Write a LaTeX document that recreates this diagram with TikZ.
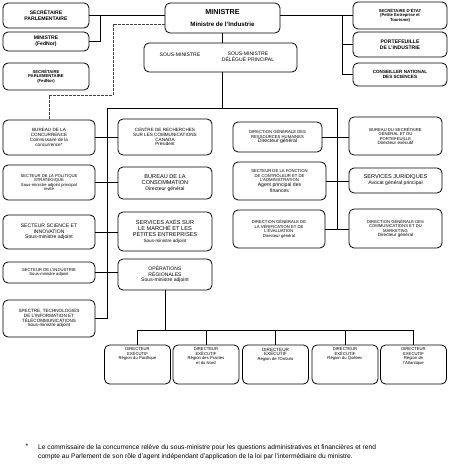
\documentclass[tikz,border=0pt]{standalone}
\usepackage{fontspec}
\setmainfont{Liberation Sans}
\usetikzlibrary{calc}
\newcommand\fsXs{\fontsize{4.2}{4.5}\selectfont}
\newcommand\fsS{\fontsize{4.6}{4.9}\selectfont}
\newcommand\fsM{\fontsize{5.1}{5.6}\selectfont}
\newcommand\fsL{\fontsize{5.6}{6.1}\selectfont}
\newcommand\fsFoot{\fontsize{6.65}{9}\selectfont}
\newcommand\topbox[2]{\parbox[t][#1][t]{60pt}{\centering #2}}
\begin{document}
\begin{tikzpicture}[x=1pt,y=-1pt,
  bx/.style={draw, rounded corners=5pt, line width=0.8pt, align=center, inner sep=1pt},
  ln/.style={line width=0.8pt},
  dl/.style={line width=0.7pt, black!75, dash pattern=on 2.5pt off 1.5pt},
  lcol/.style={bx, minimum width=92pt},
  ccol/.style={bx, minimum width=94pt},
  rcol/.style={bx, minimum width=93pt},
  reg/.style={bx, minimum width=64pt, minimum height=39pt, inner sep=3pt, font=\fsXs}]
\useasboundingbox (0,0) rectangle (450,465);

% top left
\node[bx, minimum width=86pt, minimum height=25pt, font=\fsM\bfseries] (secparl) at (46,15.5) {SECRÉTAIRE\\PARLEMENTAIRE};
\node[bx, minimum width=86pt, minimum height=19pt, font=\fsM\bfseries] (minfed) at (46,41.5) {MINISTRE\\(FedNor)};
\node[bx, minimum width=86pt, minimum height=27pt, font=\fsXs\bfseries] (secfed) at (46,76.5) {SECRÉTAIRE\\PARLEMENTAIRE\\(FedNor)};

% ministre
\node[bx, minimum width=115pt, minimum height=30pt] (ministre) at (222.5,18) {{\fontsize{7.2}{9}\selectfont\bfseries MINISTRE}\\{\fontsize{6.2}{8}\selectfont\bfseries Ministre de l'Industrie}};
\node[bx, minimum width=153pt, minimum height=29pt] (sousmin) at (220.5,57.5) {};
\node[font=\fsM, inner sep=0pt] (sm1) at (180,55) {SOUS-MINISTRE};
\node[font=\fsM, align=center, inner sep=0pt] (sm2) at (248,57) {SOUS-MINISTRE\\DÉLÉGUÉ PRINCIPAL};

% top right
\node[bx, minimum width=94pt, minimum height=27pt, font=\fsXs\bfseries] (secetat) at (400,15.5) {SECRÉTAIRE D'ÉTAT\\(Petite Entreprise et\\Tourisme)};
\node[bx, minimum width=94pt, minimum height=25pt, font=\fsM\bfseries] (portef) at (400,44.5) {PORTEFEUILLE\\DE L'INDUSTRIE};
\node[bx, minimum width=94pt, minimum height=23pt, font=\fsS\bfseries] (conseil) at (400,74.5) {CONSEILLER NATIONAL\\DES SCIENCES};

% left column
\node[lcol, minimum height=35pt, font=\fsS] (concur) at (49,137.5) {BUREAU DE LA\\CONCURRENCE\\Commissaire de la\\concurrence*};
\node[lcol, minimum height=35pt, font=\fsXs] (polstrat) at (49,182.5) {SECTEUR DE LA POLITIQUE\\STRATÉGIQUE\\Sous-ministre adjoint principal\\invité};
\node[lcol, minimum height=34pt, font=\fsM] (science) at (49,232) {SECTEUR SCIENCE ET\\INNOVATION\\Sous-ministre adjoint};
\node[lcol, minimum height=21pt, font=\fsXs] (industrie) at (49,272.5) {SECTEUR DE L'INDUSTRIE\\Sous-ministre adjoint};
\node[lcol, minimum height=37pt, font=\fsS] (spectre) at (49,318.5) {SPECTRE, TECHNOLOGIES\\DE L'INFORMATION ET\\TÉLÉCOMMUNICATIONS\\Sous-ministre adjoint};

% centre column
\node[ccol, minimum height=36pt, font=\fsS] (crc) at (165,137) {CENTRE DE RECHERCHES\\SUR LES COMMUNICATIONS\\CANADA\\Président};
\node[ccol, minimum height=32pt, font=\fsL] (consomm) at (165,183) {BUREAU DE LA\\CONSOMMATION\\{\fsM Directeur général}};
\node[ccol, minimum height=39pt, font=\fsL] (services) at (165,231.5) {SERVICES AXÉS SUR\\LE MARCHÉ ET LES\\PETITES ENTREPRISES\\{\fsS Sous-ministre adjoint}};
\node[ccol, minimum height=31pt, font=\fsM] (operations) at (165,274.5) {OPÉRATIONS\\RÉGIONALES\\Sous-ministre adjoint};

% right-centre column
\node[bx, minimum width=89pt, minimum height=30pt, font=\fsXs] (rh) at (277.5,137) {DIRECTION GÉNÉRALE DES\\RESSOURCES HUMAINES\\{\fsM Directeur général}};
\node[bx, minimum width=93pt, minimum height=38pt, font=\fsXs] (controleur) at (279.5,181) {SECTEUR DE LA FONCTION\\DE CONTRÔLEUR ET DE\\L'ADMINISTRATION\\{\fsM Agent principal des}\\{\fsM finances}};
\node[bx, minimum width=92pt, minimum height=38pt, font=\fsXs] (verif) at (279,229) {DIRECTION GÉNÉRALE DE\\LA VÉRIFICATION ET DE\\L'ÉVALUATION\\Directeur général};

% right column
\node[rcol, minimum height=38pt, font=\fsXs] (bsg) at (395.5,136) {BUREAU DU SECRÉTAIRE\\GÉNÉRAL ET DU\\PORTEFEUILLE\\{\fsS Directeur exécutif}};
\node[rcol, minimum height=25pt, font=\fsL] (juridique) at (395.5,180.5) {SERVICES JURIDIQUES\\{\fsM Avocat général principal}};
\node[rcol, minimum height=39pt, font=\fsXs] (comm) at (395.5,228.5) {DIRECTION GÉNÉRALE DES\\COMMUNICATIONS ET DU\\MARKETING\\{\fsS Directeur général}};

% regional
\node[reg] (r1) at (137.5,364.5) {\topbox{33pt}{DIRECTEUR\\EXÉCUTIF\\Région du Pacifique}};
\node[reg] (r2) at (206,364.5) {\topbox{33pt}{DIRECTEUR\\EXÉCUTIF\\Région des Prairies\\et du Nord}};
\node[reg] (r3) at (275.5,364.5) {\topbox{33pt}{{\fsS DIRECTEUR}\\{\fsS EXÉCUTIF}\\Région de l'Ontario}};
\node[reg] (r4) at (345,364.5) {\topbox{33pt}{DIRECTEUR\\EXÉCUTIF\\Région du Québec}};
\node[reg] (r5) at (413.5,364.5) {\topbox{33pt}{DIRECTEUR\\EXÉCUTIF\\Région de\\l'Atlantique}};

% footnote
\node[font=\fsFoot, inner sep=0pt] (ast) at (27,446) {*};
\node[font=\fsFoot, align=left, anchor=north west, inner sep=0pt] (fn) at (38,444) {Le commissaire de la concurrence relève du sous-ministre pour les questions administratives et financières et rend\\compte au Parlement de son rôle d'agent indépendant d'application de la loi par l'intermédiaire du ministre.};

% connectors: top left
\draw[ln] (secparl.east) -- (secparl.east -| ministre.west);
\coordinate (lj) at ($(secparl.east)+(11,0)$);
\draw[ln] (minfed.east) -| (lj);
\draw[dl] ($(ministre.west)+(0,6)$) -| (113,95) -| (concur.north);

% connectors: top right
\coordinate (rj) at ($(secetat.west)+(-10,0)$);
\draw[ln] (secetat.west -| ministre.east) -- (secetat.west);
\draw[ln] (rj) |- (conseil.west);
\draw[ln] (rj |- portef.west) -- (portef.west);

% ministre to sous-ministre and trunk
\draw[ln] (ministre.south) -- (ministre.south |- sousmin.north);
\coordinate (tl) at (107,108);
\coordinate (tr) at (337,108);
\draw[ln] (ministre.south |- sousmin.south) -- (ministre.south |- tl);
\draw[ln] (spectre.east) -| (tl) -- (tr) -- (tr |- verif.east);

% rows
\draw[ln] (concur.east) -- (concur.east -| crc.west);
\draw[ln] (polstrat.east) -- (polstrat.east -| consomm.west);
\draw[ln] (science.east) -- (science.east -| services.west);
\draw[ln] (industrie.east) -- (industrie.east -| operations.west);
\draw[ln] (rh.east) -- (rh.east -| bsg.west);
\draw[ln] (controleur.east) -- (controleur.east -| juridique.west);
\draw[ln] (verif.east) -- (verif.east -| comm.west);

% regional
\draw[ln] (operations.south) -- ++(0,40) coordinate (ops);
\draw[ln] (r1.north |- ops) -- (r5.north |- ops);
\foreach \r in {r1,r2,r3,r4,r5} \draw[ln] (\r.north |- ops) -- (\r.north);
\end{tikzpicture}
\end{document}
